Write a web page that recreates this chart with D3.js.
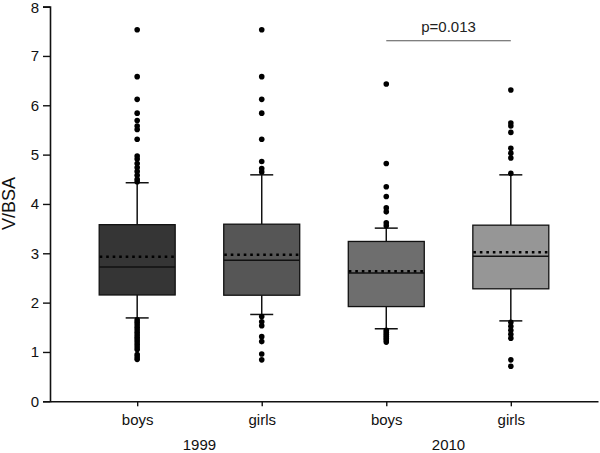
<!DOCTYPE html>
<html><head><meta charset="utf-8">
<script src="https://cdn.jsdelivr.net/npm/d3@7"></script>
<style>
html,body{margin:0;padding:0;background:#fff;}
svg{display:block;font-family:"Liberation Sans",Arial,sans-serif;}
</style></head>
<body><svg id="c" width="600" height="453"></svg>
<script>
const categories = ["boys","girls","boys","girls"];
const years = ["1999","2010"];
const q1 = [2.155, 2.15, 1.92, 2.28];
const medians = [2.72, 2.86, 2.60, 2.94];
const q3 = [3.58, 3.59, 3.24, 3.57];
const means = [2.93, 2.97, 2.635, 3.02];
const whiskerLow = [1.69, 1.76, 1.47, 1.63];
const whiskerHigh = [4.43, 4.59, 3.51, 4.59];
const outliers = [
  [7.53,6.58,6.12,5.84,5.69,5.58,5.51,5.31,4.97,4.91,4.82,4.74,4.66,4.58,4.50,4.45,
   1.65,1.60,1.55,1.50,1.45,1.40,1.35,1.30,1.25,1.20,1.15,1.10,1.05,0.95,0.90,0.85],
  [7.53,6.58,6.12,5.84,5.31,4.86,4.72,4.65,
   1.72,1.61,1.53,1.31,1.21,0.96,0.84],
  [6.43,4.82,4.35,4.15,3.92,3.84,3.62,3.56,
   1.44,1.40,1.36,1.32,1.28,1.24,1.20],
  [6.31,5.64,5.58,5.45,5.13,5.03,4.93,4.62,
   1.60,1.52,1.44,1.36,1.28,0.84,0.71]
];
const fills = ["#353535","#565656","#6e6e6e","#969696"];
const yTicks = [0,1,2,3,4,5,6,7,8];
const pLabel = "p=0.013";
const pPair = [2,3];
const yLabel = "V/BSA";

const svg = d3.select("#c");
const x = d3.scalePoint().domain(d3.range(categories.length)).range([50,598]).padding(0.7);
const y = d3.scaleLinear().domain([0,8]).range([401.3,6.6]);
const step = x.step();
const bw = step*0.61;
const capW = 23;

// axes
const yAxis = svg.append("g").attr("transform","translate(50,0)")
  .call(d3.axisLeft(y).tickValues(yTicks).tickSize(7).tickPadding(4).tickFormat(d3.format("d")));
yAxis.select(".domain").attr("stroke","#111").attr("stroke-width",1.6);
yAxis.selectAll(".tick line").attr("stroke","#111").attr("stroke-width",1.4);
yAxis.selectAll("text").attr("font-size",15).attr("fill","#111").attr("font-family","Liberation Sans, Arial, sans-serif");
// keep the top label inside the picture
yAxis.selectAll(".tick text").filter(d=>d===8).attr("dy","0.42em");

const xAxis = svg.append("g").attr("transform","translate(0,401.3)")
  .call(d3.axisBottom(x).tickSize(5).tickPadding(8).tickFormat(i=>categories[i]).tickSizeOuter(0));
xAxis.select(".domain").attr("stroke","#111").attr("stroke-width",1.6);
xAxis.selectAll(".tick line").attr("stroke","#111").attr("stroke-width",1.4);
xAxis.selectAll("text").attr("font-size",15).attr("fill","#111").attr("font-family","Liberation Sans, Arial, sans-serif");

years.forEach((yr,k)=>{
  const cx = (x(2*k)+x(2*k+1))/2;
  svg.append("text").attr("x",cx).attr("y",450).attr("text-anchor","middle")
    .attr("font-size",15).attr("fill","#111").text(yr);
});

svg.append("text").attr("transform","translate(15,203.5) rotate(-90)")
  .attr("text-anchor","middle").attr("font-size",18).attr("fill","#111").text(yLabel);

// boxes
const g = svg.append("g");
categories.forEach((c,i)=>{
  const cx = x(i);
  g.append("line").attr("x1",cx).attr("x2",cx).attr("y1",y(whiskerHigh[i])).attr("y2",y(q3[i]))
    .attr("stroke","#111").attr("stroke-width",1.5);
  g.append("line").attr("x1",cx).attr("x2",cx).attr("y1",y(q1[i])).attr("y2",y(whiskerLow[i]))
    .attr("stroke","#111").attr("stroke-width",1.5);
  [whiskerHigh[i],whiskerLow[i]].forEach(v=>{
    g.append("line").attr("x1",cx-capW/2).attr("x2",cx+capW/2).attr("y1",y(v)).attr("y2",y(v))
      .attr("stroke","#111").attr("stroke-width",1.5);
  });
  g.append("rect").attr("x",cx-bw/2).attr("y",y(q3[i])).attr("width",bw)
    .attr("height",y(q1[i])-y(q3[i])).attr("fill",fills[i]).attr("stroke","#111").attr("stroke-width",1.3);
  g.append("line").attr("x1",cx-bw/2).attr("x2",cx+bw/2).attr("y1",y(medians[i])).attr("y2",y(medians[i]))
    .attr("stroke","#111").attr("stroke-width",1.5);
  g.append("line").attr("x1",cx-bw/2+0.5).attr("x2",cx+bw/2).attr("y1",y(means[i])).attr("y2",y(means[i]))
    .attr("stroke","#000").attr("stroke-width",2.6).attr("stroke-dasharray","2.6,3.9");
  g.selectAll(null).data(outliers[i]).enter().append("circle")
    .attr("cx",cx).attr("cy",d=>y(d)).attr("r",2.8).attr("fill","#000");
});

// significance
svg.append("line").attr("x1",x(pPair[0])).attr("x2",x(pPair[1])).attr("y1",40.7).attr("y2",40.7)
  .attr("stroke","#555").attr("stroke-width",1.1);
svg.append("text").attr("x",(x(pPair[0])+x(pPair[1]))/2).attr("y",32).attr("text-anchor","middle")
  .attr("font-size",15).attr("fill","#222").text(pLabel);
</script></body></html>
